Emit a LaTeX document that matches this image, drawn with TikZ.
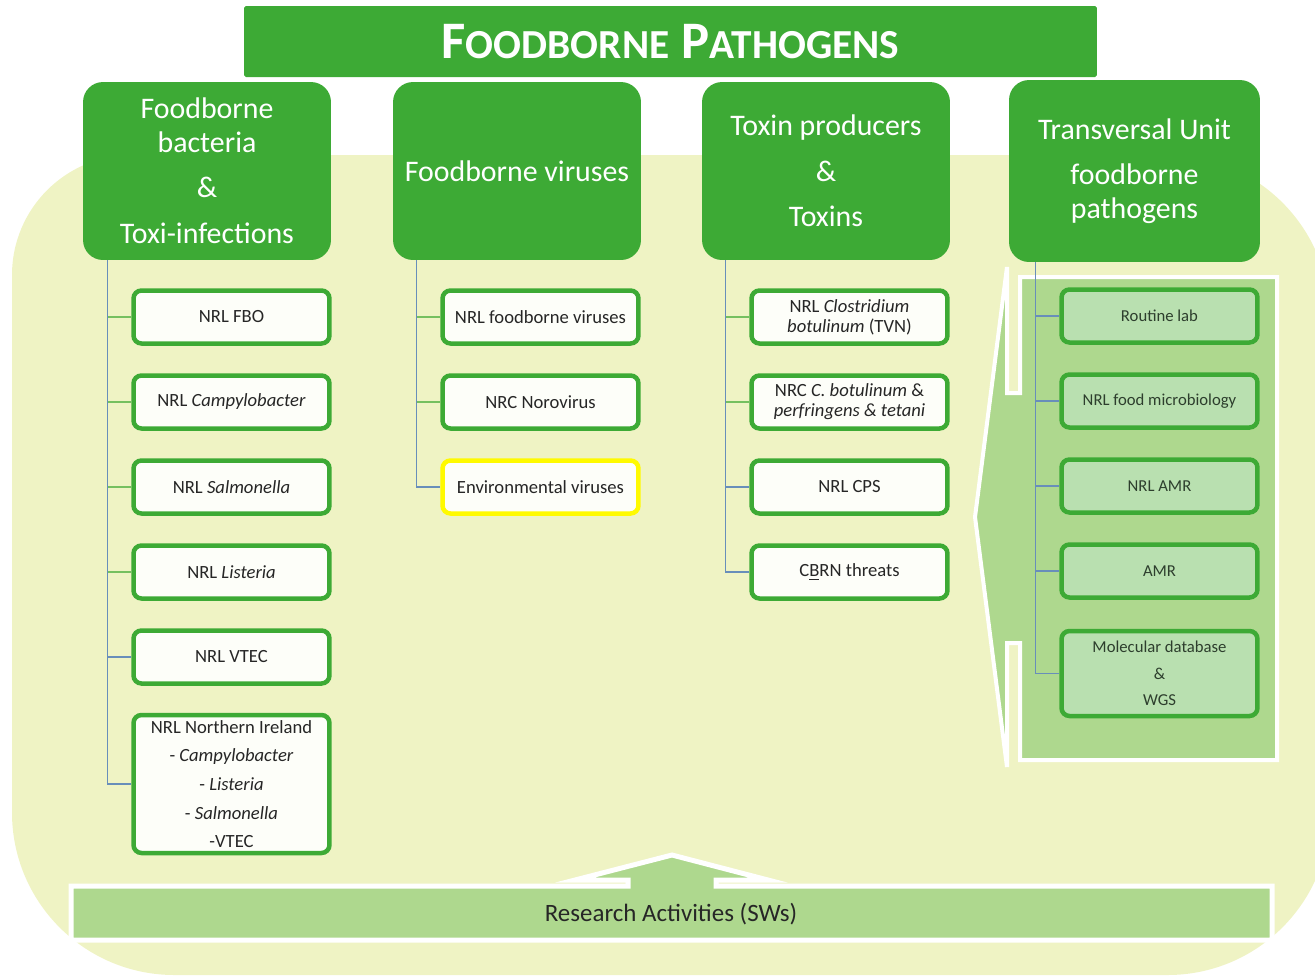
\documentclass[tikz,border=0pt]{standalone}
\usepackage{fontspec}
\setmainfont{Carlito}
\usetikzlibrary{positioning}

\definecolor{pathgreen}{RGB}{61,170,53}
\definecolor{paleyellow}{RGB}{239,243,196}
\definecolor{panelgreen}{RGB}{174,216,142}
\definecolor{unitgreen}{RGB}{185,224,176}
\definecolor{unittext}{RGB}{45,62,45}
\definecolor{boxwhite}{RGB}{253,254,249}
\definecolor{trunkblue}{RGB}{104,142,186}
\definecolor{branchgreen}{RGB}{118,192,96}
\definecolor{envyellow}{RGB}{255,250,0}
\newcommand{\tcap}[2]{{\fontsize{30}{30}\selectfont #1}{\fontsize{23.5}{23.5}\selectfont #2}}

\begin{document}
\begin{tikzpicture}[x=0.02cm,y=-0.02cm,
		header/.style={fill=pathgreen, rounded corners=0.4cm, text=white, align=center,
			minimum width=4.96cm, minimum height=3.56cm, font=\fontsize{17}{19}\selectfont},
		labbox/.style={draw=pathgreen, line width=0.09cm, fill=boxwhite, rounded corners=0.16cm,
			minimum width=3.92cm, minimum height=1.06cm, align=center, text=black!85,
			inner sep=1pt, font=\fontsize{10.6}{11.5}\selectfont},
		unitbox/.style={labbox, fill=unitgreen, text=unittext, font=\fontsize{9.5}{11}\selectfont},
		trunk/.style={draw=trunkblue, line width=0.6pt},
		branchg/.style={draw=branchgreen, line width=0.8pt},
		branchb/.style={draw=trunkblue, line width=0.6pt}]
	\useasboundingbox (0,0) rectangle (1315,975);

	% background
	\fill[paleyellow, rounded corners=3.25cm] (12,155) rectangle (1330,975);
	\fill[paleyellow, rounded corners=2.4cm] (12,155) rectangle (600,600);

	\node[fill=pathgreen, rounded corners=1pt, minimum width=17.06cm, minimum height=1.42cm,
		text=white, font=\bfseries] (title) at (670.5,41.5)
		{\tcap{F}{OODBORNE}\hspace{7pt}\tcap{P}{ATHOGENS}};

	% panel of the transversal unit
	\filldraw[fill=panelgreen, draw=white, line width=0.08cm, line join=miter]
		(1277,277) -- (1020,277) -- (1020,393) -- (1007,393) -- (1007,267) -- (975,517)
		-- (1007,767) -- (1007,643) -- (1020,643) -- (1020,760) -- (1277,760) -- cycle;

	% research bar
	\filldraw[fill=panelgreen, draw=white, line width=0.1cm, line join=miter]
		(71,886) -- (628,886) -- (628,880) -- (575,880) -- (672,855) -- (768,880)
		-- (716,880) -- (716,886) -- (1272,886) -- (1272,940) -- (71,940) -- cycle;
	\node[text=black!85, font=\fontsize{14.2}{16}\selectfont] (res) at (671,914) {Research Activities (SWs)};

	\node[header] (bact) at (207,171) {Foodborne\\bacteria\\[7pt]\&\\[7pt]Toxi-infections};
	\node[header] (vir) at (517,171) {Foodborne viruses};
	\node[header] (tox) at (826,171) {Toxin producers\\[7pt]\&\\[7pt]Toxins};
	\node[header, minimum width=5.02cm, minimum height=3.64cm] (unit) at (1134.5,171)
		{Transversal Unit\\[7pt]foodborne\\pathogens};

	\node[labbox] (fbo) at (231.5,317) {NRL FBO};
	\node[labbox] (campy) at (231.5,402) {NRL \textit{Campylobacter}};
	\node[labbox] (salmo) at (231.5,487) {NRL \textit{Salmonella}};
	\node[labbox] (list) at (231.5,572) {NRL \textit{Listeria}};
	\node[labbox] (vtec) at (231.5,657) {NRL VTEC};
	\node[labbox, minimum height=2.76cm, font=\fontsize{10.6}{16.3}\selectfont] (nini) at (231.5,784)
		{NRL Northern Ireland\\- \textit{Campylobacter}\\- \textit{Listeria}\\- \textit{Salmonella}\\-VTEC};

	\node[labbox] (fbv) at (540.5,317) {NRL foodborne viruses};
	\node[labbox] (noro) at (540.5,402) {NRC Norovirus};
	\node[labbox, draw=envyellow] (env) at (540.5,487) {Environmental viruses};

	\node[labbox] (clos) at (849.5,317) {NRL \textit{Clostridium}\\\textit{botulinum} (TVN)};
	\node[labbox] (botu) at (849.5,402) {NRC \textit{C. botulinum} \&\\\textit{perfringens \& tetani}};
	\node[labbox] (cps) at (849.5,487) {NRL CPS};
	\node[labbox] (cbrn) at (849.5,572) {C\underline{B}RN threats};

	\node[unitbox] (rout) at (1159.5,316) {Routine lab};
	\node[unitbox] (micro) at (1159.5,401) {NRL food microbiology};
	\node[unitbox] (amrn) at (1159.5,486) {NRL AMR};
	\node[unitbox] (amr) at (1159.5,571) {AMR};
	\node[unitbox, minimum height=1.7cm, font=\fontsize{9.5}{15}\selectfont] (mol) at (1159.5,673.5)
		{Molecular database\\\&\\WGS};

	% connectors
	\coordinate (t1) at ([xshift=0.5cm]bact.south west);
	\coordinate (t2) at ([xshift=0.48cm]vir.south west);
	\coordinate (t3) at ([xshift=0.48cm]tox.south west);
	\coordinate (t4) at ([xshift=0.54cm]unit.south west);
	\draw[trunk] (t1) |- (nini.west);
	\draw[trunk] (t2) |- (env.west);
	\draw[trunk] (t3) |- (cbrn.west);
	\draw[trunk] (t4) |- (mol.west);
	\foreach \n in {fbo,campy,salmo,list}
		\draw[branchg] (\n.west) -- (\n.west -| t1);
	\draw[branchb] (vtec.west) -- (vtec.west -| t1);
	\foreach \n in {fbv,noro}
		\draw[branchg] (\n.west) -- (\n.west -| t2);
	\foreach \n in {clos,botu}
		\draw[branchg] (\n.west) -- (\n.west -| t3);
	\draw[branchb] (cps.west) -- (cps.west -| t3);
	\foreach \n in {rout,micro,amrn,amr}
		\draw[branchb] (\n.west) -- (\n.west -| t4);
\end{tikzpicture}
\end{document}
